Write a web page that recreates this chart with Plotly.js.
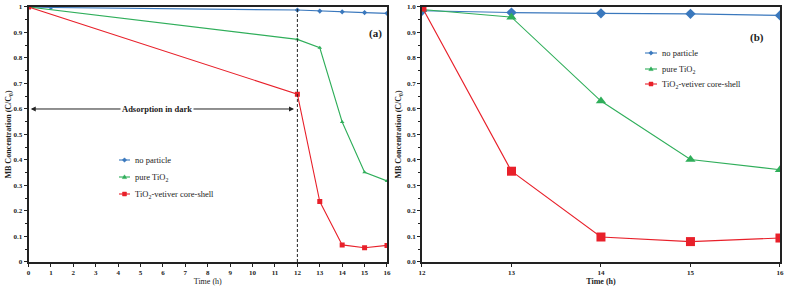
<!DOCTYPE html>
<html><head><meta charset="utf-8">
<script src="https://cdn.plot.ly/plotly-3.0.1.min.js"></script>
<style>html,body{margin:0;padding:0;background:#fff}#c{width:788px;height:290px}</style>
</head><body><div id="c"></div>
<script>
// Panel (a)
const tNoA = [0, 1, 12, 13, 14, 15, 16];
const noA = [1.0, 0.998, 0.988, 0.984, 0.981, 0.978, 0.975];
const tA = [0, 12, 13, 14, 15, 16];
const tioA = [1.0, 0.873, 0.84, 0.549, 0.352, 0.318];
const vetA = [1.0, 0.658, 0.237, 0.067, 0.056, 0.065];
// Panel (b)
const tB = [12, 13, 14, 15, 16];
const noB = [0.985, 0.978, 0.975, 0.973, 0.967];
const tioB = [0.99, 0.96, 0.631, 0.402, 0.362];
const vetB = [1.0, 0.356, 0.098, 0.08, 0.094];
const names = ['no particle', 'pure TiO<sub>2</sub>', 'TiO<sub>2</sub>-vetiver core-shell'];
const yTicks = [0,0.1,0.2,0.3,0.4,0.5,0.6,0.7,0.8,0.9,1];
const yTickTextA = ['0','0.1','0.2','0.3','0.4','0.5','0.6','0.7','0.8','0.9','1'];
const yTickTextB = ['0.0','0.1','0.2','0.3','0.4','0.5','0.6','0.7','0.8','0.9','1.0'];

const colors = ['#3a78bd', '#2fae5a', '#e8202a'];
const symbols = ['diamond', 'triangle-up', 'square'];
const serif = 'Liberation Serif, serif';

function tr(x, y, i, size, xa, ya) {
  return {x: x, y: y, name: names[i], type: 'scatter', mode: 'lines+markers',
    xaxis: xa, yaxis: ya, showlegend: false,
    line: {color: colors[i], width: 1.1},
    marker: {color: colors[i], symbol: symbols[i], size: size}};
}
const data = [
  tr(tNoA, noA, 0, 4, 'x', 'y'),
  tr(tA, tioA, 1, 4, 'x', 'y'),
  tr(tA, vetA, 2, 5, 'x', 'y'),
  tr(tB, noB, 0, 8, 'x2', 'y2'),
  tr(tB, tioB, 1, 9, 'x2', 'y2'),
  tr(tB, vetB, 2, 9, 'x2', 'y2')
];

const tickFont = {family: serif, size: 7, color: '#222', weight: 'bold'};
const baseX = {
  showgrid: false, zeroline: false, showline: true, linecolor: '#222', linewidth: 1.8,
  mirror: true, ticks: 'outside', ticklen: 3, tickwidth: 1, tickcolor: '#222',
  tickfont: tickFont, dtick: 1, tick0: 0
};
const baseY = Object.assign({}, baseX, {
  range: [0, 1], tickvals: yTicks,
  minor: {ticks: 'outside', ticklen: 2, tickwidth: 1, tickcolor: '#222', dtick: 0.05}
});

// custom legends (pixel positions)
const W = 788, H = 290;
const markerPaths = [
  'M0,2.2 L2.2,0 L0,-2.2 L-2.2,0 Z',
  'M-2.2,-1.6 L2.2,-1.6 L0,2.2 Z',
  'M-2,-2 L2,-2 L2,2 L-2,2 Z'
];
const shapes = [
  {type: 'line', xref: 'x', yref: 'y', x0: 12, x1: 12, y0: 0, y1: 1,
   line: {color: '#222', width: 1, dash: '3px,2px'}}
];
const annotations = [
  {xref: 'x', yref: 'y', x: 0.1, y: 0.6, ax: 6, ay: 0.6, axref: 'x', ayref: 'y', text: '',
   showarrow: true, arrowhead: 2, arrowsize: 1, arrowwidth: 1, arrowcolor: '#222'},
  {xref: 'x', yref: 'y', x: 11.85, y: 0.6, ax: 6, ay: 0.6, axref: 'x', ayref: 'y', text: '',
   showarrow: true, arrowhead: 2, arrowsize: 1, arrowwidth: 1, arrowcolor: '#222'},
  {xref: 'x', yref: 'y', x: 5.75, y: 0.6, text: '<b>Adsorption in dark</b>', showarrow: false,
   bgcolor: '#fff', font: {family: serif, size: 8.5, color: '#222'}},
  {xref: 'paper', yref: 'paper', x: 375/W, y: 1 - 25/H, text: '<b>(a)</b>', showarrow: false,
   font: {family: serif, size: 11, color: '#222'}},
  {xref: 'paper', yref: 'paper', x: 766/W, y: 1 - 29/H, text: '<b>(b)</b>', showarrow: false,
   font: {family: serif, size: 11, color: '#222'}}
];
function addLegend(x0, x1, tx, ys) {
  for (let i = 0; i < 3; i++) {
    const yp = 1 - ys[i]/H;
    shapes.push({type: 'line', xref: 'paper', yref: 'paper', x0: x0/W, x1: x1/W, y0: yp, y1: yp,
      line: {color: colors[i], width: 1.1}});
    shapes.push({type: 'path', xref: 'paper', yref: 'paper', xsizemode: 'pixel', ysizemode: 'pixel',
      xanchor: ((x0 + x1)/2)/W, yanchor: yp, path: markerPaths[i],
      fillcolor: colors[i], line: {color: colors[i], width: 0.5}});
    annotations.push({xref: 'paper', yref: 'paper', x: tx/W, y: yp, xanchor: 'left', yanchor: 'middle',
      text: names[i], showarrow: false, font: {family: serif, size: 8.5, color: '#222'}});
  }
}
addLegend(119, 130, 133, [160, 177, 194]);
addLegend(645, 657, 660, [53, 69, 84]);

const layout = {
  width: W, height: H, margin: {l: 0, r: 0, t: 0, b: 0},
  paper_bgcolor: '#fff', plot_bgcolor: '#fff',
  font: {family: serif, color: '#222'},
  showlegend: false,
  xaxis: Object.assign({}, baseX, {domain: [0.0362, 0.4911], range: [0, 16], anchor: 'y',
    title: {text: 'Time (h)', font: {family: serif, size: 8}, standoff: 2}}),
  yaxis: Object.assign({}, baseY, {domain: [0.0966, 0.9759], anchor: 'x', ticktext: yTickTextA,
    title: {text: 'MB Concentration (C/C<sub>0</sub>)', font: {family: serif, size: 8, weight: 'bold'}, standoff: 0}}),
  xaxis2: Object.assign({}, baseX, {domain: [0.5355, 0.9898], range: [12, 16], anchor: 'y2',
    title: {text: 'Time (h)', font: {family: serif, size: 8, weight: 'bold'}, standoff: 2}}),
  yaxis2: Object.assign({}, baseY, {domain: [0.0966, 0.9759], anchor: 'x2', ticktext: yTickTextB,
    title: {text: 'MB Concentration (C/C<sub>0</sub>)', font: {family: serif, size: 8, weight: 'bold'}, standoff: 4}}),
  shapes: shapes,
  annotations: annotations
};
Plotly.newPlot('c', data, layout, {staticPlot: true});
</script></body></html>
